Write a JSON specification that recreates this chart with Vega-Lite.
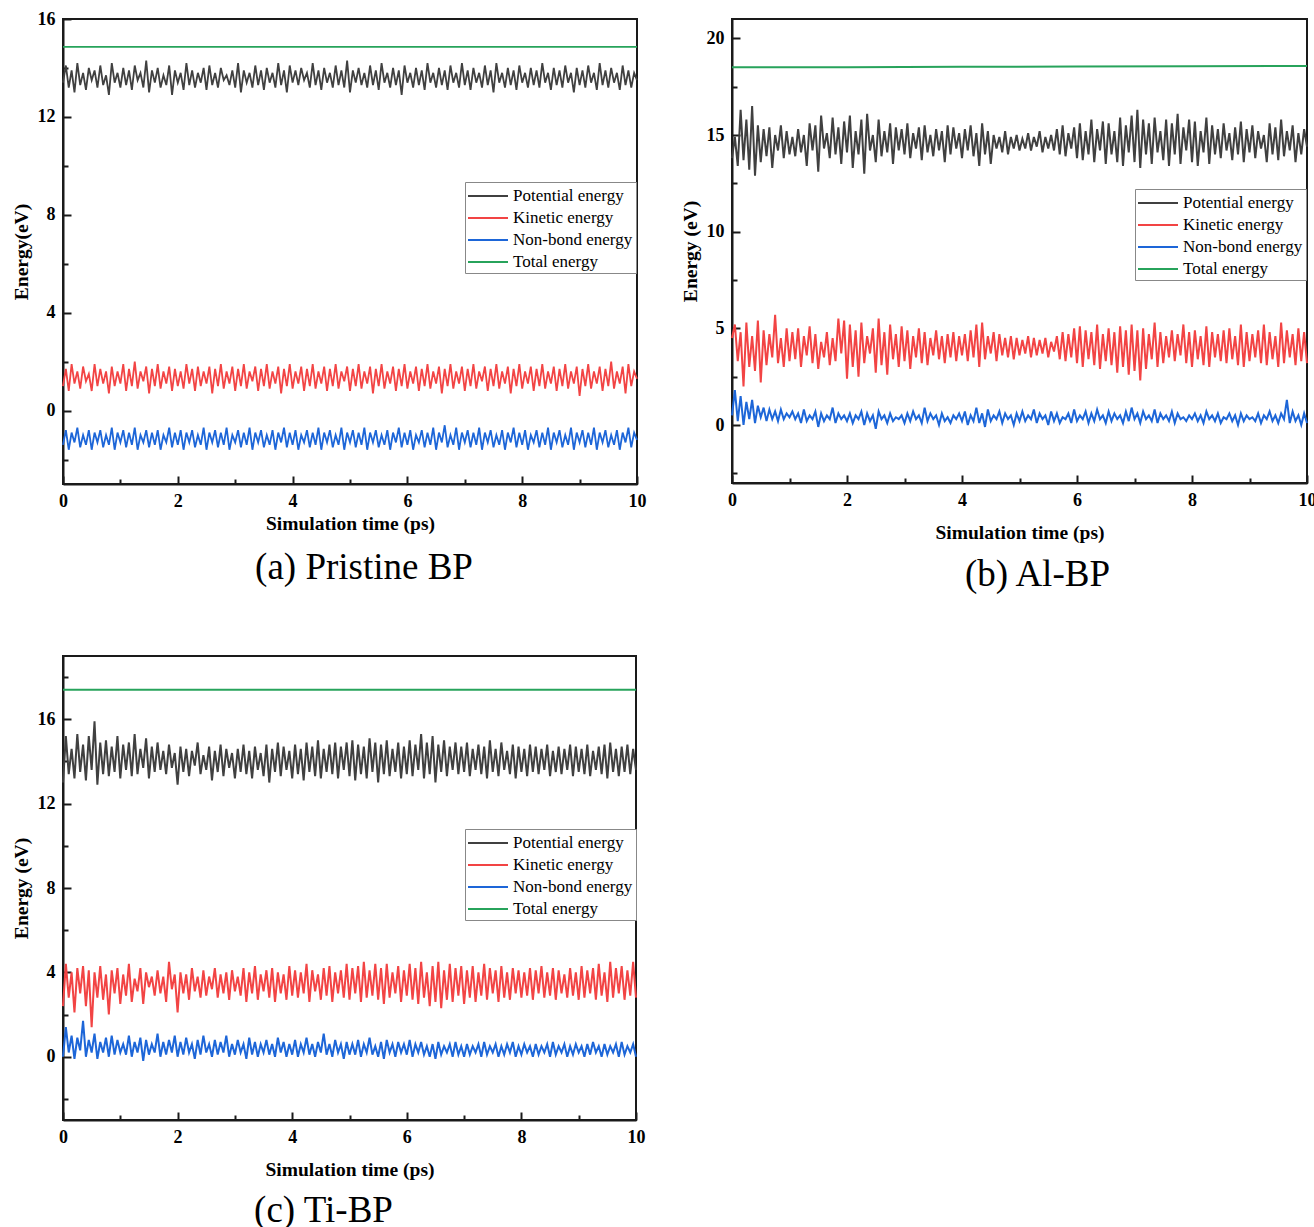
{
"$schema":"https://vega.github.io/schema/vega-lite/v6.json",
"background":"white",
"padding":{"left":10,"top":9,"right":0,"bottom":0},
"columns":2,
"spacing":{"column":32,"row":61},
"resolve":{"scale":{"x":"independent","y":"independent","color":"independent"},"legend":{"color":"independent"},"axis":{"x":"independent","y":"independent"}},
"config":{
"font":"Liberation Serif",
"view":{"stroke":"#1a1a1a","strokeWidth":2},
"axis":{"grid":false,"labelFont":"Liberation Serif","labelFontWeight":"bold","labelFontSize":18,"labelColor":"#000","titleFont":"Liberation Serif","titleFontWeight":"bold","titleFontSize":19.5,"titleColor":"#000","domainColor":"#1a1a1a","domainWidth":2,"tickColor":"#1a1a1a","tickWidth":2,"labelFlush":false,"labelOverlap":false},
"axisX":{"labelPadding":16,"titlePadding":1},
"axisY":{"labelPadding":16,"titlePadding":6},
"legend":{"orient":"none","title":null,"direction":"vertical","symbolType":"M-2,0H2","symbolSize":400,"symbolStrokeWidth":2,"symbolOffset":9,"labelFont":"Liberation Serif","labelFontSize":17,"labelColor":"#000","strokeColor":"#888","fillColor":"white","padding":3,"rowPadding":3,"labelOffset":14},
"title":{"orient":"bottom","anchor":"middle","frame":"group","font":"Liberation Serif","fontSize":37,"fontWeight":"normal","color":"#000"}
},
"datasets":{
"A":[
{"t":0,"p":13.4,"k":1.0,"n":-1.4,"e":14.86},{"t":0.05,"p":14.1,"k":1.7,"n":-0.8},{"t":0.1,"p":13.2,"k":0.8,"n":-1.6},{"t":0.15,"p":13.9,"k":1.9,"n":-0.9},{"t":0.2,"p":13.0,"k":1.1,"n":-1.3},{"t":0.25,"p":14.2,"k":1.6,"n":-0.7},{"t":0.3,"p":13.3,"k":0.9,"n":-1.5},{"t":0.35,"p":13.8,"k":1.8,"n":-1.0},{"t":0.4,"p":13.1,"k":1.2,"n":-1.4},{"t":0.45,"p":14.0,"k":1.5,"n":-0.8},
{"t":0.5,"p":13.5,"k":0.8,"n":-1.6},{"t":0.55,"p":13.9,"k":1.9,"n":-0.9},{"t":0.6,"p":13.2,"k":1.0,"n":-1.3},{"t":0.65,"p":14.1,"k":1.7,"n":-0.8},{"t":0.7,"p":13.3,"k":1.1,"n":-1.5},{"t":0.75,"p":13.7,"k":1.6,"n":-1.0},{"t":0.8,"p":12.9,"k":0.7,"n":-1.4},{"t":0.85,"p":14.2,"k":1.8,"n":-0.7},{"t":0.9,"p":13.4,"k":1.0,"n":-1.6},{"t":0.95,"p":13.8,"k":1.6,"n":-0.9},
{"t":1,"p":13.2,"k":1.1,"n":-1.3},{"t":1.05,"p":14.0,"k":1.9,"n":-0.8},{"t":1.1,"p":13.3,"k":0.8,"n":-1.5},{"t":1.15,"p":13.9,"k":1.7,"n":-0.9},{"t":1.2,"p":13.1,"k":1.0,"n":-1.4},{"t":1.25,"p":14.1,"k":2.0,"n":-0.7},{"t":1.3,"p":13.5,"k":0.9,"n":-1.6},{"t":1.35,"p":13.8,"k":1.6,"n":-1.0},{"t":1.4,"p":13.2,"k":1.2,"n":-1.3},{"t":1.45,"p":14.3,"k":1.8,"n":-0.8},
{"t":1.5,"p":13.0,"k":0.7,"n":-1.5},{"t":1.55,"p":13.9,"k":1.7,"n":-0.9},{"t":1.6,"p":13.4,"k":1.0,"n":-1.4},{"t":1.65,"p":14.0,"k":1.9,"n":-0.8},{"t":1.7,"p":13.2,"k":0.9,"n":-1.6},{"t":1.75,"p":13.7,"k":1.6,"n":-1.0},{"t":1.8,"p":13.3,"k":1.1,"n":-1.3},{"t":1.85,"p":14.1,"k":1.8,"n":-0.7},{"t":1.9,"p":12.9,"k":0.8,"n":-1.5},{"t":1.95,"p":13.9,"k":1.7,"n":-0.9},
{"t":2,"p":13.4,"k":1.0,"n":-1.4},{"t":2.05,"p":13.8,"k":1.6,"n":-0.8},{"t":2.1,"p":13.1,"k":0.9,"n":-1.6},{"t":2.15,"p":14.2,"k":1.9,"n":-0.9},{"t":2.2,"p":13.3,"k":1.1,"n":-1.3},{"t":2.25,"p":13.9,"k":1.7,"n":-0.8},{"t":2.3,"p":13.2,"k":0.8,"n":-1.5},{"t":2.35,"p":13.8,"k":1.8,"n":-1.0},{"t":2.4,"p":13.4,"k":1.0,"n":-1.4},{"t":2.45,"p":14.0,"k":1.6,"n":-0.7},
{"t":2.5,"p":13.1,"k":1.1,"n":-1.6},{"t":2.55,"p":14.1,"k":1.8,"n":-0.9},{"t":2.6,"p":13.3,"k":0.7,"n":-1.3},{"t":2.65,"p":13.8,"k":1.7,"n":-0.8},{"t":2.7,"p":13.2,"k":1.0,"n":-1.5},{"t":2.75,"p":14.0,"k":1.9,"n":-0.9},{"t":2.8,"p":13.5,"k":0.9,"n":-1.4},{"t":2.85,"p":13.7,"k":1.6,"n":-0.7},{"t":2.9,"p":13.3,"k":1.1,"n":-1.6},{"t":2.95,"p":13.9,"k":1.8,"n":-1.0},
{"t":3,"p":13.2,"k":0.8,"n":-1.3},{"t":3.05,"p":14.2,"k":1.7,"n":-0.8},{"t":3.1,"p":13.0,"k":1.0,"n":-1.5},{"t":3.15,"p":13.9,"k":1.9,"n":-0.9},{"t":3.2,"p":13.4,"k":0.9,"n":-1.4},{"t":3.25,"p":13.8,"k":1.6,"n":-0.7},{"t":3.3,"p":13.2,"k":1.2,"n":-1.6},{"t":3.35,"p":14.1,"k":1.8,"n":-0.9},{"t":3.4,"p":13.3,"k":0.8,"n":-1.3},{"t":3.45,"p":13.9,"k":1.7,"n":-0.8},
{"t":3.5,"p":13.1,"k":1.0,"n":-1.5},{"t":3.55,"p":14.0,"k":1.9,"n":-1.0},{"t":3.6,"p":13.4,"k":0.9,"n":-1.4},{"t":3.65,"p":13.8,"k":1.6,"n":-0.8},{"t":3.7,"p":13.2,"k":1.1,"n":-1.6},{"t":3.75,"p":14.2,"k":1.8,"n":-0.9},{"t":3.8,"p":13.3,"k":0.7,"n":-1.3},{"t":3.85,"p":13.9,"k":1.7,"n":-0.7},{"t":3.9,"p":13.0,"k":1.0,"n":-1.5},{"t":3.95,"p":14.1,"k":1.9,"n":-0.9},
{"t":4,"p":13.4,"k":0.9,"n":-1.4},{"t":4.05,"p":13.9,"k":1.6,"n":-0.8},{"t":4.1,"p":13.3,"k":1.1,"n":-1.6},{"t":4.15,"p":14.0,"k":1.8,"n":-1.0},{"t":4.2,"p":13.5,"k":0.8,"n":-1.3},{"t":4.25,"p":13.8,"k":1.7,"n":-0.8},{"t":4.3,"p":13.2,"k":1.0,"n":-1.5},{"t":4.35,"p":14.2,"k":1.9,"n":-0.9},{"t":4.4,"p":13.3,"k":0.9,"n":-1.4},{"t":4.45,"p":13.9,"k":1.6,"n":-0.7},
{"t":4.5,"p":13.1,"k":1.1,"n":-1.6},{"t":4.55,"p":14.0,"k":1.8,"n":-0.9},{"t":4.6,"p":13.4,"k":0.8,"n":-1.3},{"t":4.65,"p":13.8,"k":1.7,"n":-0.8},{"t":4.7,"p":13.2,"k":1.0,"n":-1.5},{"t":4.75,"p":14.1,"k":1.9,"n":-1.0},{"t":4.8,"p":13.3,"k":0.9,"n":-1.4},{"t":4.85,"p":13.9,"k":1.6,"n":-0.7},{"t":4.9,"p":13.2,"k":1.2,"n":-1.6},{"t":4.95,"p":14.3,"k":1.8,"n":-0.9},
{"t":5,"p":13.0,"k":0.8,"n":-1.3,"e":14.86},{"t":5.05,"p":13.9,"k":1.7,"n":-0.8},{"t":5.1,"p":13.4,"k":1.0,"n":-1.5},{"t":5.15,"p":14.0,"k":1.9,"n":-0.9},{"t":5.2,"p":13.3,"k":0.9,"n":-1.4},{"t":5.25,"p":13.8,"k":1.6,"n":-0.7},{"t":5.3,"p":13.2,"k":1.1,"n":-1.6},{"t":5.35,"p":14.1,"k":1.8,"n":-0.9},{"t":5.4,"p":13.3,"k":0.7,"n":-1.3},{"t":5.45,"p":13.9,"k":1.7,"n":-0.8},
{"t":5.5,"p":13.1,"k":1.0,"n":-1.5},{"t":5.55,"p":14.2,"k":1.9,"n":-1.0},{"t":5.6,"p":13.4,"k":0.9,"n":-1.4},{"t":5.65,"p":13.8,"k":1.6,"n":-0.8},{"t":5.7,"p":13.2,"k":1.1,"n":-1.6},{"t":5.75,"p":14.0,"k":1.8,"n":-0.9},{"t":5.8,"p":13.3,"k":0.8,"n":-1.3},{"t":5.85,"p":13.9,"k":1.7,"n":-0.7},{"t":5.9,"p":12.9,"k":1.0,"n":-1.5},{"t":5.95,"p":14.1,"k":1.9,"n":-0.9},
{"t":6,"p":13.4,"k":0.9,"n":-1.4},{"t":6.05,"p":13.8,"k":1.6,"n":-0.8},{"t":6.1,"p":13.2,"k":1.1,"n":-1.6},{"t":6.15,"p":14.0,"k":1.8,"n":-1.0},{"t":6.2,"p":13.3,"k":0.8,"n":-1.3},{"t":6.25,"p":13.9,"k":1.7,"n":-0.8},{"t":6.3,"p":13.1,"k":1.0,"n":-1.5},{"t":6.35,"p":14.2,"k":1.9,"n":-0.9},{"t":6.4,"p":13.4,"k":0.9,"n":-1.4},{"t":6.45,"p":13.8,"k":1.6,"n":-0.7},
{"t":6.5,"p":13.2,"k":1.1,"n":-1.6},{"t":6.55,"p":14.0,"k":1.8,"n":-0.9},{"t":6.6,"p":13.3,"k":0.7,"n":-1.3},{"t":6.65,"p":13.9,"k":1.7,"n":-0.6},{"t":6.7,"p":13.1,"k":1.0,"n":-1.5},{"t":6.75,"p":14.1,"k":1.9,"n":-1.0},{"t":6.8,"p":13.4,"k":0.9,"n":-1.4},{"t":6.85,"p":13.8,"k":1.6,"n":-0.7},{"t":6.9,"p":13.2,"k":1.1,"n":-1.6},{"t":6.95,"p":14.2,"k":1.8,"n":-0.9},
{"t":7,"p":13.3,"k":0.8,"n":-1.3},{"t":7.05,"p":13.9,"k":1.7,"n":-0.8},{"t":7.1,"p":13.1,"k":1.0,"n":-1.5},{"t":7.15,"p":14.0,"k":1.9,"n":-0.9},{"t":7.2,"p":13.4,"k":0.9,"n":-1.4},{"t":7.25,"p":13.8,"k":1.6,"n":-0.7},{"t":7.3,"p":13.2,"k":1.2,"n":-1.6},{"t":7.35,"p":14.1,"k":1.8,"n":-0.9},{"t":7.4,"p":13.3,"k":0.8,"n":-1.3},{"t":7.45,"p":13.9,"k":1.7,"n":-0.8},
{"t":7.5,"p":13.0,"k":1.0,"n":-1.5},{"t":7.55,"p":14.2,"k":1.9,"n":-1.0},{"t":7.6,"p":13.4,"k":0.9,"n":-1.4},{"t":7.65,"p":13.8,"k":1.6,"n":-0.8},{"t":7.7,"p":13.2,"k":1.1,"n":-1.6},{"t":7.75,"p":14.0,"k":1.8,"n":-0.9},{"t":7.8,"p":13.3,"k":0.7,"n":-1.3},{"t":7.85,"p":13.9,"k":1.7,"n":-0.7},{"t":7.9,"p":13.1,"k":1.0,"n":-1.5},{"t":7.95,"p":14.1,"k":1.9,"n":-0.9},
{"t":8,"p":13.4,"k":0.9,"n":-1.4},{"t":8.05,"p":13.8,"k":1.6,"n":-0.8},{"t":8.1,"p":13.2,"k":1.1,"n":-1.6},{"t":8.15,"p":14.0,"k":1.8,"n":-1.0},{"t":8.2,"p":13.3,"k":0.8,"n":-1.3},{"t":8.25,"p":13.9,"k":1.7,"n":-0.8},{"t":8.3,"p":13.2,"k":1.0,"n":-1.5},{"t":8.35,"p":14.2,"k":1.9,"n":-0.9},{"t":8.4,"p":13.4,"k":0.9,"n":-1.4},{"t":8.45,"p":13.8,"k":1.6,"n":-0.7},
{"t":8.5,"p":13.1,"k":1.1,"n":-1.6},{"t":8.55,"p":14.0,"k":1.8,"n":-0.9},{"t":8.6,"p":13.3,"k":0.8,"n":-1.3},{"t":8.65,"p":13.9,"k":1.7,"n":-0.8},{"t":8.7,"p":13.2,"k":1.0,"n":-1.5},{"t":8.75,"p":14.1,"k":1.9,"n":-1.0},{"t":8.8,"p":13.4,"k":0.9,"n":-1.4},{"t":8.85,"p":13.8,"k":1.6,"n":-0.7},{"t":8.9,"p":13.0,"k":1.1,"n":-1.6},{"t":8.95,"p":14.0,"k":1.8,"n":-0.9},
{"t":9,"p":13.3,"k":0.6,"n":-1.3},{"t":9.05,"p":13.9,"k":1.7,"n":-0.8},{"t":9.1,"p":13.2,"k":1.0,"n":-1.5},{"t":9.15,"p":14.1,"k":1.9,"n":-0.9},{"t":9.2,"p":13.4,"k":0.9,"n":-1.4},{"t":9.25,"p":13.8,"k":1.6,"n":-0.7},{"t":9.3,"p":13.1,"k":1.1,"n":-1.6},{"t":9.35,"p":14.2,"k":1.8,"n":-0.9},{"t":9.4,"p":13.3,"k":0.8,"n":-1.3},{"t":9.45,"p":13.9,"k":1.7,"n":-0.8},
{"t":9.5,"p":13.2,"k":1.0,"n":-1.5},{"t":9.55,"p":14.0,"k":2.0,"n":-1.0},{"t":9.6,"p":13.4,"k":0.9,"n":-1.4},{"t":9.65,"p":13.8,"k":1.6,"n":-0.8},{"t":9.7,"p":13.1,"k":1.1,"n":-1.6},{"t":9.75,"p":14.1,"k":1.8,"n":-0.9},{"t":9.8,"p":13.3,"k":0.7,"n":-1.3},{"t":9.85,"p":13.9,"k":1.9,"n":-0.7},{"t":9.9,"p":13.2,"k":1.0,"n":-1.5},{"t":9.95,"p":13.8,"k":1.6,"n":-0.9},
{"t":10,"p":13.5,"k":1.3,"n":-1.2,"e":14.86}
],
"B":[
{"t":0,"p":13.8,"k":4.5,"n":0.5,"e":18.5},{"t":0.05,"p":14.9,"k":5.2,"n":1.8},{"t":0.1,"p":13.4,"k":3.3,"n":0.2},{"t":0.15,"p":16.3,"k":4.8,"n":1.5},{"t":0.2,"p":13.7,"k":2.0,"n":0.0},{"t":0.25,"p":15.8,"k":5.3,"n":1.2},{"t":0.3,"p":13.2,"k":3.0,"n":0.3},{"t":0.35,"p":16.5,"k":4.6,"n":1.3},{"t":0.4,"p":12.9,"k":2.8,"n":0.1},{"t":0.45,"p":15.5,"k":5.4,"n":1.0},
{"t":0.5,"p":13.6,"k":2.2,"n":0.4},{"t":0.55,"p":15.3,"k":4.9,"n":0.9},{"t":0.6,"p":13.9,"k":3.1,"n":0.2},{"t":0.65,"p":15.4,"k":4.7,"n":0.8},{"t":0.7,"p":13.3,"k":3.5,"n":0.3},{"t":0.75,"p":15.0,"k":5.7,"n":0.7},{"t":0.8,"p":14.2,"k":3.2,"n":0.2},{"t":0.85,"p":15.5,"k":4.5,"n":0.8},{"t":0.9,"p":13.8,"k":3.0,"n":0.3},{"t":0.95,"p":15.2,"k":5.0,"n":0.6},
{"t":1,"p":14.0,"k":3.3,"n":0.4},{"t":1.05,"p":14.9,"k":4.8,"n":0.7},{"t":1.1,"p":13.9,"k":3.4,"n":0.3},{"t":1.15,"p":15.3,"k":5.0,"n":0.6},{"t":1.2,"p":14.1,"k":3.0,"n":0.1},{"t":1.25,"p":15.0,"k":4.6,"n":0.8},{"t":1.3,"p":13.4,"k":3.6,"n":0.2},{"t":1.35,"p":15.6,"k":5.1,"n":0.5},{"t":1.4,"p":14.2,"k":3.2,"n":0.3},{"t":1.45,"p":15.5,"k":4.7,"n":0.7},
{"t":1.5,"p":13.1,"k":2.9,"n":-0.1},{"t":1.55,"p":16.0,"k":4.3,"n":0.6},{"t":1.6,"p":14.3,"k":3.5,"n":0.2},{"t":1.65,"p":15.1,"k":4.8,"n":0.5},{"t":1.7,"p":13.8,"k":3.1,"n":0.3},{"t":1.75,"p":15.9,"k":4.5,"n":0.9},{"t":1.8,"p":14.0,"k":3.3,"n":0.1},{"t":1.85,"p":15.4,"k":5.5,"n":0.6},{"t":1.9,"p":13.5,"k":3.7,"n":0.3},{"t":1.95,"p":15.7,"k":5.4,"n":0.5},
{"t":2,"p":14.1,"k":2.4,"n":0.2,"e":18.51},{"t":2.05,"p":16.0,"k":5.2,"n":0.6},{"t":2.1,"p":13.3,"k":3.0,"n":0.1},{"t":2.15,"p":15.2,"k":4.9,"n":0.5},{"t":2.2,"p":14.0,"k":2.5,"n":0.3},{"t":2.25,"p":15.8,"k":5.3,"n":0.7},{"t":2.3,"p":13.0,"k":3.2,"n":0.0},{"t":2.35,"p":16.1,"k":4.6,"n":0.6},{"t":2.4,"p":14.2,"k":3.7,"n":0.2},{"t":2.45,"p":15.0,"k":5.0,"n":0.5},
{"t":2.5,"p":13.6,"k":2.7,"n":-0.2},{"t":2.55,"p":15.8,"k":5.5,"n":0.7},{"t":2.6,"p":13.9,"k":3.1,"n":0.3},{"t":2.65,"p":15.2,"k":4.8,"n":0.5},{"t":2.7,"p":14.1,"k":2.6,"n":0.1},{"t":2.75,"p":15.6,"k":5.2,"n":0.6},{"t":2.8,"p":13.5,"k":3.4,"n":0.2},{"t":2.85,"p":15.4,"k":4.7,"n":0.4},{"t":2.9,"p":14.2,"k":3.0,"n":0.3},{"t":2.95,"p":15.3,"k":5.1,"n":0.5},
{"t":3,"p":14.0,"k":3.3,"n":0.1},{"t":3.05,"p":15.6,"k":4.9,"n":0.6},{"t":3.1,"p":13.8,"k":2.9,"n":0.2},{"t":3.15,"p":15.1,"k":4.6,"n":0.7},{"t":3.2,"p":14.3,"k":3.5,"n":0.3},{"t":3.25,"p":15.4,"k":5.0,"n":0.5},{"t":3.3,"p":13.7,"k":3.2,"n":0.1},{"t":3.35,"p":15.5,"k":4.8,"n":0.9},{"t":3.4,"p":14.1,"k":3.1,"n":0.2},{"t":3.45,"p":15.0,"k":4.5,"n":0.6},
{"t":3.5,"p":13.9,"k":3.6,"n":0.3},{"t":3.55,"p":15.3,"k":4.9,"n":0.5},{"t":3.6,"p":14.2,"k":3.4,"n":0.0},{"t":3.65,"p":15.2,"k":4.6,"n":0.6},{"t":3.7,"p":13.6,"k":3.2,"n":0.2},{"t":3.75,"p":15.5,"k":4.7,"n":0.4},{"t":3.8,"p":14.0,"k":3.5,"n":0.1},{"t":3.85,"p":15.4,"k":4.8,"n":0.5},{"t":3.9,"p":14.3,"k":3.3,"n":0.3},{"t":3.95,"p":15.1,"k":4.6,"n":0.6},
{"t":4,"p":13.8,"k":3.6,"n":0.2,"e":18.53},{"t":4.05,"p":15.3,"k":4.7,"n":0.7},{"t":4.1,"p":14.2,"k":3.3,"n":0.0},{"t":4.15,"p":15.5,"k":4.9,"n":0.5},{"t":4.2,"p":13.9,"k":3.5,"n":0.2},{"t":4.25,"p":15.1,"k":5.2,"n":0.9},{"t":4.3,"p":13.4,"k":3.0,"n":0.1},{"t":4.35,"p":15.6,"k":5.3,"n":0.6},{"t":4.4,"p":14.0,"k":3.4,"n":-0.1},{"t":4.45,"p":15.2,"k":4.6,"n":0.8},
{"t":4.5,"p":13.5,"k":3.7,"n":0.2},{"t":4.55,"p":15.0,"k":4.8,"n":0.5},{"t":4.6,"p":14.3,"k":3.3,"n":0.3},{"t":4.65,"p":14.9,"k":4.7,"n":0.7},{"t":4.7,"p":14.1,"k":3.6,"n":0.1},{"t":4.75,"p":15.2,"k":4.5,"n":0.6},{"t":4.8,"p":14.0,"k":3.5,"n":0.3},{"t":4.85,"p":14.9,"k":4.6,"n":0.5},{"t":4.9,"p":14.3,"k":3.4,"n":0.0},{"t":4.95,"p":15.0,"k":4.5,"n":0.6},
{"t":5,"p":14.2,"k":3.6,"n":0.2},{"t":5.05,"p":14.8,"k":4.4,"n":0.7},{"t":5.1,"p":14.3,"k":3.7,"n":0.2},{"t":5.15,"p":15.1,"k":4.6,"n":0.5},{"t":5.2,"p":14.2,"k":3.5,"n":0.3},{"t":5.25,"p":14.9,"k":4.5,"n":0.8},{"t":5.3,"p":14.4,"k":3.6,"n":0.1},{"t":5.35,"p":15.2,"k":4.4,"n":0.6},{"t":5.4,"p":14.1,"k":3.7,"n":0.3},{"t":5.45,"p":14.9,"k":4.5,"n":0.5},
{"t":5.5,"p":14.3,"k":3.5,"n":0.0},{"t":5.55,"p":15.0,"k":4.3,"n":0.7},{"t":5.6,"p":14.2,"k":3.8,"n":0.2},{"t":5.65,"p":15.3,"k":4.6,"n":0.6},{"t":5.7,"p":14.0,"k":3.4,"n":0.1},{"t":5.75,"p":15.5,"k":4.8,"n":0.4},{"t":5.8,"p":13.9,"k":3.3,"n":0.3},{"t":5.85,"p":15.1,"k":4.7,"n":0.6},{"t":5.9,"p":14.3,"k":3.5,"n":0.1},{"t":5.95,"p":15.4,"k":5.0,"n":0.8},
{"t":6,"p":13.8,"k":3.2,"n":0.2,"e":18.54},{"t":6.05,"p":15.6,"k":5.1,"n":0.5},{"t":6.1,"p":13.7,"k":3.0,"n":0.3},{"t":6.15,"p":15.2,"k":4.9,"n":0.7},{"t":6.2,"p":14.0,"k":3.4,"n":0.1},{"t":6.25,"p":15.8,"k":4.8,"n":0.6},{"t":6.3,"p":13.6,"k":3.1,"n":0.2},{"t":6.35,"p":15.3,"k":5.2,"n":0.8},{"t":6.4,"p":14.2,"k":2.9,"n":0.3},{"t":6.45,"p":15.7,"k":4.7,"n":0.5},
{"t":6.5,"p":13.5,"k":3.3,"n":0.1},{"t":6.55,"p":15.6,"k":5.0,"n":0.7},{"t":6.6,"p":14.0,"k":3.1,"n":0.2},{"t":6.65,"p":15.2,"k":4.8,"n":0.6},{"t":6.7,"p":13.6,"k":2.7,"n":0.3},{"t":6.75,"p":15.9,"k":5.1,"n":0.5},{"t":6.8,"p":13.4,"k":3.0,"n":0.1},{"t":6.85,"p":15.5,"k":4.9,"n":0.7},{"t":6.9,"p":14.1,"k":2.6,"n":0.2},{"t":6.95,"p":16.0,"k":5.2,"n":0.9},
{"t":7,"p":13.6,"k":2.8,"n":0.3},{"t":7.05,"p":16.3,"k":4.9,"n":0.6},{"t":7.1,"p":13.3,"k":2.3,"n":0.1},{"t":7.15,"p":15.8,"k":5.0,"n":0.7},{"t":7.2,"p":14.0,"k":2.9,"n":0.3},{"t":7.25,"p":15.6,"k":4.7,"n":0.5},{"t":7.3,"p":13.5,"k":3.4,"n":0.2},{"t":7.35,"p":15.9,"k":5.3,"n":0.8},{"t":7.4,"p":14.1,"k":3.0,"n":0.1},{"t":7.45,"p":15.2,"k":4.8,"n":0.6},
{"t":7.5,"p":13.7,"k":3.2,"n":0.3},{"t":7.55,"p":15.8,"k":4.6,"n":0.5},{"t":7.6,"p":13.4,"k":3.5,"n":0.2},{"t":7.65,"p":15.6,"k":4.9,"n":0.7},{"t":7.7,"p":14.0,"k":3.3,"n":0.1},{"t":7.75,"p":16.1,"k":4.7,"n":0.6},{"t":7.8,"p":13.5,"k":3.6,"n":0.3},{"t":7.85,"p":15.4,"k":5.2,"n":0.4},{"t":7.9,"p":14.2,"k":3.2,"n":0.2},{"t":7.95,"p":15.8,"k":4.8,"n":0.5},
{"t":8,"p":13.6,"k":3.0,"n":0.3,"e":18.56},{"t":8.05,"p":15.7,"k":4.9,"n":0.6},{"t":8.1,"p":13.4,"k":3.4,"n":0.2},{"t":8.15,"p":15.2,"k":4.6,"n":0.5},{"t":8.2,"p":14.1,"k":3.1,"n":0.1},{"t":8.25,"p":15.9,"k":5.1,"n":0.7},{"t":8.3,"p":13.5,"k":3.0,"n":0.3},{"t":8.35,"p":15.5,"k":4.8,"n":0.5},{"t":8.4,"p":14.0,"k":3.5,"n":0.2},{"t":8.45,"p":15.3,"k":4.7,"n":0.6},
{"t":8.5,"p":13.8,"k":3.3,"n":0.1},{"t":8.55,"p":15.6,"k":4.9,"n":0.4},{"t":8.6,"p":14.2,"k":3.2,"n":0.3},{"t":8.65,"p":15.1,"k":5.0,"n":0.6},{"t":8.7,"p":13.7,"k":3.4,"n":0.2},{"t":8.75,"p":15.4,"k":4.6,"n":0.5},{"t":8.8,"p":14.0,"k":3.1,"n":0.0},{"t":8.85,"p":15.7,"k":5.2,"n":0.6},{"t":8.9,"p":13.6,"k":3.0,"n":0.2},{"t":8.95,"p":15.3,"k":4.8,"n":0.5},
{"t":9,"p":14.1,"k":3.3,"n":0.3},{"t":9.05,"p":15.5,"k":4.7,"n":0.4},{"t":9.1,"p":13.8,"k":3.5,"n":0.2},{"t":9.15,"p":15.2,"k":4.9,"n":0.6},{"t":9.2,"p":14.3,"k":3.2,"n":0.1},{"t":9.25,"p":15.0,"k":5.2,"n":0.5},{"t":9.3,"p":13.6,"k":3.1,"n":0.3},{"t":9.35,"p":15.6,"k":4.8,"n":0.7},{"t":9.4,"p":14.0,"k":3.4,"n":0.2},{"t":9.45,"p":15.4,"k":4.6,"n":0.5},
{"t":9.5,"p":13.7,"k":3.0,"n":0.1},{"t":9.55,"p":15.8,"k":5.3,"n":0.6},{"t":9.6,"p":13.9,"k":3.2,"n":0.3},{"t":9.65,"p":15.2,"k":4.9,"n":1.3},{"t":9.7,"p":14.2,"k":3.5,"n":0.1},{"t":9.75,"p":15.5,"k":4.7,"n":0.7},{"t":9.8,"p":13.6,"k":3.1,"n":0.2},{"t":9.85,"p":15.1,"k":5.0,"n":0.5},{"t":9.9,"p":14.0,"k":3.3,"n":0.0},{"t":9.95,"p":15.3,"k":4.8,"n":0.6},
{"t":10,"p":14.4,"k":3.2,"n":0.1,"e":18.57}
],
"C":[
{"t":0,"p":13.0,"k":2.4,"n":0.0,"e":17.4},{"t":0.05,"p":15.2,"k":4.4,"n":1.4},{"t":0.1,"p":13.4,"k":2.8,"n":0.2},{"t":0.15,"p":14.6,"k":4.0,"n":1.0},{"t":0.2,"p":13.2,"k":2.1,"n":-0.1},{"t":0.25,"p":15.3,"k":4.2,"n":0.9},{"t":0.3,"p":13.5,"k":3.0,"n":0.3},{"t":0.35,"p":14.8,"k":4.3,"n":1.7},{"t":0.4,"p":13.1,"k":2.4,"n":0.0},{"t":0.45,"p":15.2,"k":4.1,"n":0.8},
{"t":0.5,"p":13.6,"k":1.4,"n":0.2},{"t":0.55,"p":15.9,"k":4.0,"n":1.1},{"t":0.6,"p":12.9,"k":2.8,"n":-0.1},{"t":0.65,"p":14.9,"k":4.3,"n":0.7},{"t":0.7,"p":13.4,"k":2.7,"n":0.2},{"t":0.75,"p":15.0,"k":3.9,"n":0.9},{"t":0.8,"p":13.3,"k":2.0,"n":0.0},{"t":0.85,"p":14.7,"k":4.1,"n":1.0},{"t":0.9,"p":13.5,"k":3.0,"n":0.1},{"t":0.95,"p":15.2,"k":4.2,"n":0.8},
{"t":1,"p":13.2,"k":2.5,"n":0.2},{"t":1.05,"p":14.8,"k":3.9,"n":0.6},{"t":1.1,"p":13.6,"k":2.9,"n":0.1},{"t":1.15,"p":14.9,"k":4.4,"n":1.0},{"t":1.2,"p":13.3,"k":2.6,"n":0.0},{"t":1.25,"p":15.3,"k":3.7,"n":0.7},{"t":1.3,"p":13.4,"k":3.1,"n":0.2},{"t":1.35,"p":14.6,"k":4.2,"n":0.9},{"t":1.4,"p":13.7,"k":2.5,"n":-0.2},{"t":1.45,"p":15.1,"k":4.0,"n":0.8},
{"t":1.5,"p":13.2,"k":3.3,"n":0.1},{"t":1.55,"p":14.7,"k":3.8,"n":0.6},{"t":1.6,"p":13.5,"k":2.9,"n":0.2},{"t":1.65,"p":14.9,"k":4.1,"n":1.1},{"t":1.7,"p":13.6,"k":3.0,"n":0.0},{"t":1.75,"p":14.5,"k":3.8,"n":0.7},{"t":1.8,"p":13.4,"k":2.6,"n":0.1},{"t":1.85,"p":14.8,"k":4.5,"n":0.8},{"t":1.9,"p":13.7,"k":3.2,"n":0.2},{"t":1.95,"p":14.4,"k":3.9,"n":1.0},
{"t":2,"p":12.9,"k":2.1,"n":0.0},{"t":2.05,"p":14.7,"k":4.0,"n":0.7},{"t":2.1,"p":13.5,"k":3.0,"n":0.1},{"t":2.15,"p":14.6,"k":3.9,"n":0.9},{"t":2.2,"p":13.3,"k":2.7,"n":0.2},{"t":2.25,"p":14.5,"k":4.2,"n":0.6},{"t":2.3,"p":13.8,"k":3.1,"n":-0.1},{"t":2.35,"p":14.9,"k":3.8,"n":0.8},{"t":2.4,"p":13.4,"k":2.8,"n":0.1},{"t":2.45,"p":14.3,"k":4.1,"n":1.0},
{"t":2.5,"p":13.6,"k":2.9,"n":0.2},{"t":2.55,"p":14.7,"k":3.8,"n":0.6},{"t":2.6,"p":13.1,"k":3.2,"n":0.0},{"t":2.65,"p":14.5,"k":4.2,"n":0.8},{"t":2.7,"p":13.5,"k":2.8,"n":0.1},{"t":2.75,"p":14.8,"k":3.9,"n":0.7},{"t":2.8,"p":13.3,"k":3.0,"n":0.2},{"t":2.85,"p":14.6,"k":4.0,"n":1.0},{"t":2.9,"p":13.7,"k":2.7,"n":0.0},{"t":2.95,"p":14.4,"k":4.1,"n":0.6},
{"t":3,"p":13.2,"k":3.1,"n":0.1},{"t":3.05,"p":14.6,"k":3.8,"n":0.8},{"t":3.1,"p":13.5,"k":2.9,"n":0.2},{"t":3.15,"p":14.8,"k":4.2,"n":0.6},{"t":3.2,"p":13.4,"k":2.6,"n":-0.1},{"t":3.25,"p":14.5,"k":4.0,"n":0.9},{"t":3.3,"p":13.2,"k":3.0,"n":0.1},{"t":3.35,"p":14.7,"k":4.3,"n":0.7},{"t":3.4,"p":13.6,"k":2.7,"n":0.0},{"t":3.45,"p":14.4,"k":3.9,"n":0.6},
{"t":3.5,"p":13.3,"k":3.1,"n":0.2},{"t":3.55,"p":14.8,"k":4.1,"n":0.8},{"t":3.6,"p":13.0,"k":2.8,"n":0.1},{"t":3.65,"p":14.6,"k":4.2,"n":0.6},{"t":3.7,"p":13.5,"k":2.6,"n":0.0},{"t":3.75,"p":14.9,"k":4.0,"n":0.9},{"t":3.8,"p":13.3,"k":3.0,"n":0.2},{"t":3.85,"p":14.7,"k":3.9,"n":0.7},{"t":3.9,"p":13.6,"k":2.7,"n":0.0},{"t":3.95,"p":14.5,"k":4.3,"n":0.6},
{"t":4,"p":13.2,"k":2.9,"n":0.1},{"t":4.05,"p":14.8,"k":4.1,"n":0.8},{"t":4.1,"p":13.4,"k":2.8,"n":0.0},{"t":4.15,"p":14.6,"k":4.0,"n":0.6},{"t":4.2,"p":13.1,"k":3.0,"n":0.2},{"t":4.25,"p":14.9,"k":4.4,"n":0.9},{"t":4.3,"p":13.5,"k":2.6,"n":0.1},{"t":4.35,"p":14.7,"k":4.1,"n":0.6},{"t":4.4,"p":13.3,"k":3.1,"n":0.0},{"t":4.45,"p":15.0,"k":3.9,"n":0.7},
{"t":4.5,"p":13.2,"k":2.7,"n":0.2},{"t":4.55,"p":14.6,"k":4.2,"n":1.1},{"t":4.6,"p":13.5,"k":2.9,"n":0.1},{"t":4.65,"p":14.8,"k":4.3,"n":0.6},{"t":4.7,"p":13.4,"k":2.6,"n":0.0},{"t":4.75,"p":14.9,"k":4.0,"n":0.8},{"t":4.8,"p":13.2,"k":3.0,"n":0.2},{"t":4.85,"p":14.7,"k":4.1,"n":0.6},{"t":4.9,"p":13.6,"k":2.8,"n":-0.1},{"t":4.95,"p":14.9,"k":4.4,"n":0.7},
{"t":5,"p":13.3,"k":2.7,"n":0.1,"e":17.4},{"t":5.05,"p":15.0,"k":4.2,"n":0.6},{"t":5.1,"p":13.1,"k":3.0,"n":0.1},{"t":5.15,"p":14.8,"k":4.3,"n":0.8},{"t":5.2,"p":13.4,"k":2.6,"n":0.0},{"t":5.25,"p":14.7,"k":4.5,"n":0.6},{"t":5.3,"p":13.2,"k":2.8,"n":0.2},{"t":5.35,"p":15.1,"k":4.1,"n":0.9},{"t":5.4,"p":13.5,"k":2.9,"n":0.1},{"t":5.45,"p":14.9,"k":4.4,"n":0.5},
{"t":5.5,"p":13.0,"k":2.7,"n":0.0},{"t":5.55,"p":14.8,"k":4.2,"n":0.7},{"t":5.6,"p":13.4,"k":2.5,"n":-0.1},{"t":5.65,"p":15.0,"k":4.4,"n":0.8},{"t":5.7,"p":13.3,"k":2.8,"n":0.2},{"t":5.75,"p":14.6,"k":4.0,"n":0.6},{"t":5.8,"p":13.5,"k":3.0,"n":0.0},{"t":5.85,"p":14.9,"k":4.3,"n":0.7},{"t":5.9,"p":13.2,"k":2.6,"n":0.2},{"t":5.95,"p":14.7,"k":4.1,"n":0.6},
{"t":6,"p":13.4,"k":2.9,"n":0.1},{"t":6.05,"p":15.0,"k":4.4,"n":0.8},{"t":6.1,"p":13.3,"k":2.7,"n":0.0},{"t":6.15,"p":14.8,"k":4.2,"n":0.6},{"t":6.2,"p":13.6,"k":2.5,"n":0.2},{"t":6.25,"p":15.3,"k":4.5,"n":0.7},{"t":6.3,"p":13.2,"k":2.8,"n":0.1},{"t":6.35,"p":14.9,"k":4.0,"n":0.5},{"t":6.4,"p":13.4,"k":2.4,"n":0.0},{"t":6.45,"p":15.2,"k":4.3,"n":0.6},
{"t":6.5,"p":13.0,"k":2.6,"n":-0.1},{"t":6.55,"p":14.8,"k":4.5,"n":0.7},{"t":6.6,"p":13.5,"k":2.3,"n":0.1},{"t":6.65,"p":15.0,"k":4.1,"n":0.5},{"t":6.7,"p":13.3,"k":2.7,"n":0.2},{"t":6.75,"p":14.7,"k":4.4,"n":0.6},{"t":6.8,"p":13.6,"k":2.6,"n":0.0},{"t":6.85,"p":14.9,"k":4.2,"n":0.7},{"t":6.9,"p":13.4,"k":2.9,"n":0.1},{"t":6.95,"p":14.7,"k":4.3,"n":0.5},
{"t":7,"p":13.5,"k":2.5,"n":0.0},{"t":7.05,"p":14.9,"k":4.1,"n":0.6},{"t":7.1,"p":13.3,"k":2.8,"n":0.1},{"t":7.15,"p":14.6,"k":4.3,"n":0.5},{"t":7.2,"p":13.6,"k":2.6,"n":0.2},{"t":7.25,"p":14.8,"k":4.0,"n":0.6},{"t":7.3,"p":13.4,"k":2.9,"n":0.0},{"t":7.35,"p":14.7,"k":4.4,"n":0.7},{"t":7.4,"p":13.2,"k":2.7,"n":0.1},{"t":7.45,"p":15.0,"k":4.2,"n":0.5},
{"t":7.5,"p":13.5,"k":3.0,"n":0.2},{"t":7.55,"p":14.6,"k":4.1,"n":0.6},{"t":7.6,"p":13.3,"k":2.6,"n":0.0},{"t":7.65,"p":14.9,"k":4.3,"n":0.5},{"t":7.7,"p":13.6,"k":2.8,"n":0.1},{"t":7.75,"p":14.5,"k":4.0,"n":0.6},{"t":7.8,"p":13.4,"k":2.7,"n":0.2},{"t":7.85,"p":14.8,"k":4.2,"n":0.7},{"t":7.9,"p":13.2,"k":3.0,"n":0.0},{"t":7.95,"p":14.7,"k":4.1,"n":0.5},
{"t":8,"p":13.5,"k":2.8,"n":0.1},{"t":8.05,"p":14.6,"k":4.0,"n":0.6},{"t":8.1,"p":13.3,"k":2.9,"n":0.2},{"t":8.15,"p":14.8,"k":4.2,"n":0.5},{"t":8.2,"p":13.5,"k":2.7,"n":0.0},{"t":8.25,"p":14.7,"k":4.1,"n":0.6},{"t":8.3,"p":13.4,"k":3.0,"n":0.1},{"t":8.35,"p":14.6,"k":4.3,"n":0.5},{"t":8.4,"p":13.6,"k":2.8,"n":0.2},{"t":8.45,"p":14.8,"k":4.0,"n":0.6},
{"t":8.5,"p":13.3,"k":2.9,"n":0.0},{"t":8.55,"p":14.5,"k":4.2,"n":0.7},{"t":8.6,"p":13.5,"k":2.7,"n":0.1},{"t":8.65,"p":14.7,"k":4.1,"n":0.5},{"t":8.7,"p":13.4,"k":3.0,"n":0.2},{"t":8.75,"p":14.6,"k":3.9,"n":0.6},{"t":8.8,"p":13.6,"k":2.8,"n":0.0},{"t":8.85,"p":14.8,"k":4.2,"n":0.5},{"t":8.9,"p":13.3,"k":2.9,"n":0.1},{"t":8.95,"p":14.7,"k":4.0,"n":0.6},
{"t":9,"p":13.5,"k":2.7,"n":0.2},{"t":9.05,"p":14.6,"k":4.3,"n":0.5},{"t":9.1,"p":13.4,"k":2.8,"n":0.0},{"t":9.15,"p":14.8,"k":4.1,"n":0.6},{"t":9.2,"p":13.3,"k":3.0,"n":0.1},{"t":9.25,"p":14.5,"k":4.2,"n":0.7},{"t":9.3,"p":13.6,"k":2.7,"n":0.2},{"t":9.35,"p":14.7,"k":4.4,"n":0.5},{"t":9.4,"p":13.4,"k":2.9,"n":0.0},{"t":9.45,"p":14.8,"k":4.0,"n":0.6},
{"t":9.5,"p":13.2,"k":2.6,"n":0.1},{"t":9.55,"p":14.9,"k":4.5,"n":0.5},{"t":9.6,"p":13.5,"k":2.8,"n":0.2},{"t":9.65,"p":14.6,"k":4.2,"n":0.6},{"t":9.7,"p":13.3,"k":3.0,"n":0.0},{"t":9.75,"p":14.7,"k":4.3,"n":0.7},{"t":9.8,"p":13.5,"k":2.7,"n":0.1},{"t":9.85,"p":14.8,"k":4.1,"n":0.5},{"t":9.9,"p":13.4,"k":2.9,"n":0.2},{"t":9.95,"p":14.6,"k":4.5,"n":0.6},
{"t":10,"p":13.6,"k":2.8,"n":0.0,"e":17.4}
]
},
"concat":[
{
"width":574,"height":465,
"title":{"text":"(a)  Pristine BP","dx":14,"offset":17},
"data":{"name":"A"},
"transform":[{"fold":["p","k","n","e"],"as":["s","v"]},{"filter":"isValid(datum.v)"}],
"mark":{"type":"line","strokeWidth":1.8},
"encoding":{
"x":{"field":"t","type":"quantitative","scale":{"domain":[0,10],"nice":false},"axis":{"title":"Simulation time (ps)","values":[0,1,2,3,4,5,6,7,8,9,10],"labelExpr":"datum.value % 2 === 0 ? datum.label : ''","tickSize":{"condition":{"test":"datum.value % 2 === 0","value":-8},"value":-5}}},
"y":{"field":"v","type":"quantitative","scale":{"domain":[-3,16],"nice":false,"zero":false},"axis":{"title":"Energy(eV)","values":[-2,0,2,4,6,8,10,12,14,16],"labelExpr":"datum.value % 4 === 0 ? datum.label : ''","tickSize":{"condition":{"test":"datum.value % 4 === 0","value":-8},"value":-5}}},
"color":{"field":"s","type":"nominal","scale":{"domain":["p","k","n","e"],"range":["#404040","#f24444","#1d66d8","#27a35b"]},"legend":{"legendX":402,"legendY":163,"labelExpr":"{'p':'Potential energy','k':'Kinetic energy','n':'Non-bond energy','e':'Total energy'}[datum.label]"}}
}
},
{
"width":575,"height":464,
"title":{"text":"(b)  Al-BP","dx":18,"offset":15},
"data":{"name":"B"},
"transform":[{"fold":["p","k","n","e"],"as":["s","v"]},{"filter":"isValid(datum.v)"}],
"mark":{"type":"line","strokeWidth":2},
"encoding":{
"x":{"field":"t","type":"quantitative","scale":{"domain":[0,10],"nice":false},"axis":{"title":"Simulation time (ps)","titlePadding":11,"values":[0,1,2,3,4,5,6,7,8,9,10],"labelExpr":"datum.value % 2 === 0 ? datum.label : ''","tickSize":{"condition":{"test":"datum.value % 2 === 0","value":-8},"value":-5}}},
"y":{"field":"v","type":"quantitative","scale":{"domain":[-3,21],"nice":false,"zero":false},"axis":{"title":"Energy (eV)","values":[-2.5,0,2.5,5,7.5,10,12.5,15,17.5,20],"labelExpr":"datum.value % 5 === 0 ? datum.label : ''","tickSize":{"condition":{"test":"datum.value % 5 === 0","value":-8},"value":-5}}},
"color":{"field":"s","type":"nominal","scale":{"domain":["p","k","n","e"],"range":["#404040","#f24444","#1d66d8","#27a35b"]},"legend":{"legendX":403,"legendY":170,"labelExpr":"{'p':'Potential energy','k':'Kinetic energy','n':'Non-bond energy','e':'Total energy'}[datum.label]"}}
}
},
{
"width":573,"height":464,
"title":{"text":"(c)  Ti-BP","dx":-26,"offset":14},
"data":{"name":"C"},
"transform":[{"fold":["p","k","n","e"],"as":["s","v"]},{"filter":"isValid(datum.v)"}],
"mark":{"type":"line","strokeWidth":2},
"encoding":{
"x":{"field":"t","type":"quantitative","scale":{"domain":[0,10],"nice":false},"axis":{"title":"Simulation time (ps)","titlePadding":11,"values":[0,1,2,3,4,5,6,7,8,9,10],"labelExpr":"datum.value % 2 === 0 ? datum.label : ''","tickSize":{"condition":{"test":"datum.value % 2 === 0","value":-8},"value":-5}}},
"y":{"field":"v","type":"quantitative","scale":{"domain":[-3,19],"nice":false,"zero":false},"axis":{"title":"Energy (eV)","values":[-2,0,2,4,6,8,10,12,14,16,18],"labelExpr":"datum.value % 4 === 0 ? datum.label : ''","tickSize":{"condition":{"test":"datum.value % 4 === 0","value":-8},"value":-5}}},
"color":{"field":"s","type":"nominal","scale":{"domain":["p","k","n","e"],"range":["#404040","#f24444","#1d66d8","#27a35b"]},"legend":{"legendX":402,"legendY":173,"labelExpr":"{'p':'Potential energy','k':'Kinetic energy','n':'Non-bond energy','e':'Total energy'}[datum.label]"}}
}
}
]
}
